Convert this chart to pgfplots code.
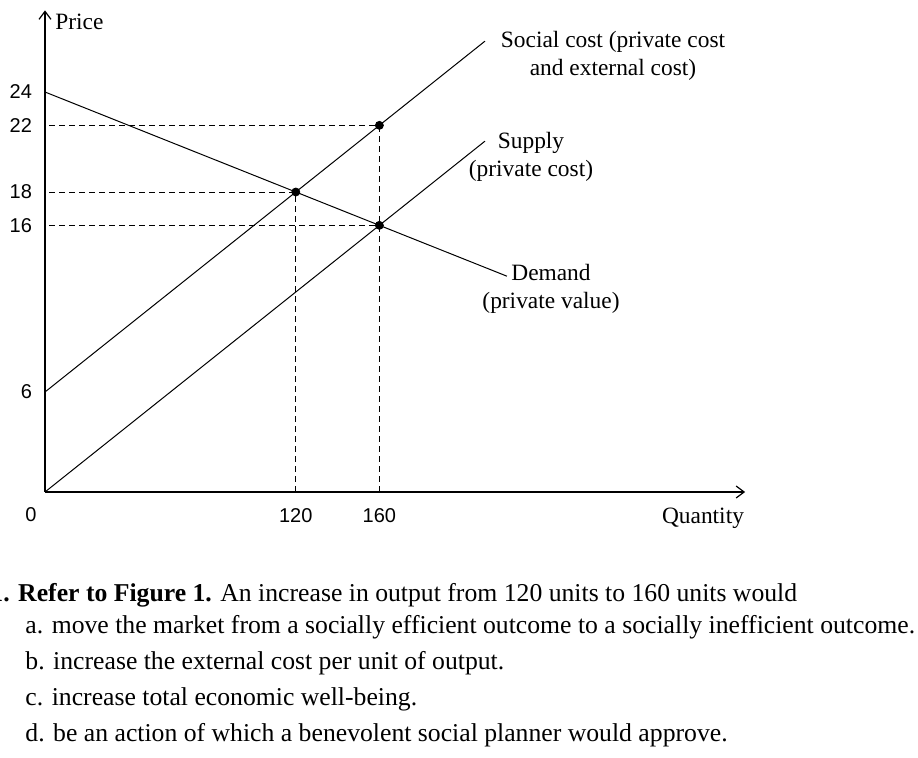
\documentclass[border=0pt]{standalone}
\usepackage{fontspec}
\setmainfont{Liberation Serif}
\newfontfamily\tickfont{Liberation Sans}
\usepackage{pgfplots}
\pgfplotsset{compat=1.18}
\usetikzlibrary{arrows.meta}

\begin{document}
\begin{tikzpicture}[x=0.5pt,y=-0.5pt]
\begin{axis}[
  at={(22.5pt,-246pt)}, anchor=origin,
  x=1.045pt, y=8.333pt,
  xmin=0, xmax=335, ymin=0, ymax=28.9,
  axis lines=left,
  axis line style={line width=1pt, -{Straight Barb[length=4pt,width=6pt,line width=0.6pt]}},
  major tick length=0pt,
  xtick={120,160}, ytick={6,16,18,22,24},
  /pgf/number format/assume math mode=true,
  tick label style={font=\tickfont\fontsize{10}{12}\selectfont},
  yticklabel style={xshift=-3pt},
  xticklabel style={yshift=-4.5pt},
  clip=false,
]
% demand (private value)
\addplot[black, line width=0.5pt] coordinates {(0,24) (221,12.95)};
% social cost
\addplot[black, line width=0.5pt] coordinates {(0,6) (210.5,27.05)};
% supply (private cost)
\addplot[black, line width=0.5pt] coordinates {(0,0) (210.5,21.05)};
% guide lines
\addplot[black, line width=0.5pt, dash pattern=on 3pt off 2pt] coordinates {(2,22) (160,22)};
\addplot[black, line width=0.5pt, dash pattern=on 3pt off 2pt] coordinates {(2,18) (120,18)};
\addplot[black, line width=0.5pt, dash pattern=on 3pt off 2pt] coordinates {(2,16) (160,16)};
\addplot[black, line width=0.5pt, dash pattern=on 3pt off 2pt] coordinates {(120,0) (120,18)};
\addplot[black, line width=0.5pt, dash pattern=on 3pt off 2pt] coordinates {(160,0) (160,22)};
% equilibria
\addplot[only marks, mark=*, mark size=2pt, black] coordinates {(120,18) (160,22) (160,16)};
\end{axis}

\begin{scope}[font=\fontsize{11.7}{14}\selectfont]
\node[anchor=west, inner sep=0pt] at (55,22) {Price};
\node[anchor=center, inner sep=0pt] at (703,518) {Quantity};
\node[anchor=center, inner sep=0pt] at (31,515) {\tickfont\fontsize{10}{12}\selectfont 0};
\node[align=center, inner sep=0pt] at (613,56) {Social cost (private cost\\and external cost)};
\node[align=center, inner sep=0pt] at (531,157) {Supply\\(private cost)};
\node[align=center, inner sep=0pt] at (551,289) {Demand\\(private value)};
\end{scope}

\begin{scope}[font=\fontsize{12.85}{15}\selectfont]
\node[anchor=base west, inner sep=0pt] at (-10,602) {\textbf{1. Refer to Figure 1.} An increase in output from 120 units to 160 units would};
\node[anchor=base west, inner sep=0pt] at (25,634) {a. move the market from a socially efficient outcome to a socially inefficient outcome.};
\node[anchor=base west, inner sep=0pt] at (25,670) {b. increase the external cost per unit of output.};
\node[anchor=base west, inner sep=0pt] at (25,706) {c. increase total economic well-being.};
\node[anchor=base west, inner sep=0pt] at (25,742) {d. be an action of which a benevolent social planner would approve.};
\end{scope}

\pgfresetboundingbox
\useasboundingbox (0,0) rectangle (918,758);
\end{tikzpicture}
\end{document}
